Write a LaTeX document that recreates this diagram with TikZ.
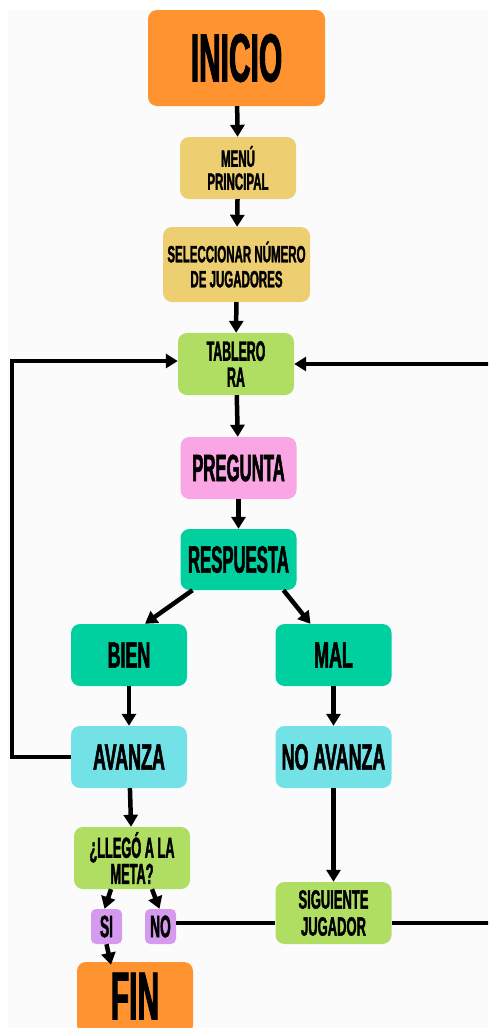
\documentclass[tikz,border=0pt]{standalone}
\usepackage{fontspec}
\usetikzlibrary{arrows.meta,calc}
\newfontfamily\bbn[FakeStretch=0.44,FakeBold=1.4]{Liberation Sans}
\newfontfamily\bbw[FakeStretch=0.49,FakeBold=1.4]{Liberation Sans}
\definecolor{cOrange}{HTML}{FF9330}
\definecolor{cYellow}{HTML}{EDCF72}
\definecolor{cGreen}{HTML}{B0DE62}
\definecolor{cPink}{HTML}{FBA6E4}
\definecolor{cTeal}{HTML}{00CFA0}
\definecolor{cCyan}{HTML}{72E2E6}
\definecolor{cViolet}{HTML}{D59AEE}
\definecolor{cBg}{HTML}{FBFBFB}
\begin{document}
\begin{tikzpicture}[x=1pt,y=-1pt,
  box/.style={rounded corners=9pt, inner sep=0pt, align=center, text=black},
  szn/.style 2 args={font=\bbn\bfseries\fontsize{#1}{#2}\selectfont},
  szw/.style 2 args={font=\bbw\bfseries\fontsize{#1}{#2}\selectfont},
  std/.style={box, minimum width=116pt, minimum height=62pt},
  arr/.style={line width=4.5pt, -{Triangle[length=12pt,width=14pt]}},
  ln/.style={line width=4.5pt}]
\useasboundingbox (0,0) rectangle (488,1028);
\clip (0,0) rectangle (488,1028);
\fill[white] (0,0) rectangle (488,1028);
\fill[cBg] (8,10) rectangle (488,1028);

\node[box, fill=cOrange, minimum width=177pt, minimum height=96pt, szn={68}{68}] (inicio) at (236.5,58) {INICIO};
\node[std, fill=cYellow, szw={23.5}{23}] (menu) at (238,168) {MENÚ\\PRINCIPAL};
\node[box, fill=cYellow, minimum width=147pt, minimum height=75pt, szw={23.5}{25}] (selec) at (236.5,264.5) {SELECCIONAR NÚMERO\\DE JUGADORES};
\node[std, fill=cGreen, szn={28}{26}] (tablero) at (236,364) {TABLERO\\RA};
\node[std, fill=cPink, szn={38}{38}] (pregunta) at (238.5,468) {PREGUNTA};
\node[std, fill=cTeal, minimum height=61pt, szn={38}{38}] (respuesta) at (238.5,559.5) {RESPUESTA};
\node[std, fill=cTeal, szw={36.5}{36}] (bien) at (129,655) {BIEN};
\node[std, fill=cTeal, szw={36.5}{36}] (mal) at (333.5,655) {MAL};
\node[std, fill=cCyan, szw={36.5}{36}] (avanza) at (129,757) {AVANZA};
\node[std, fill=cCyan, szw={36.5}{36}] (noavanza) at (333.5,757) {NO AVANZA};
\node[std, fill=cGreen, szn={29}{20.5}] (llego) at (132,858) {¿LLEGÓ A LA\\META?};
\node[box, fill=cViolet, minimum width=31pt, minimum height=35pt, rounded corners=5pt, szn={31}{31}] (si) at (106.5,926.5) {SI};
\node[box, fill=cViolet, minimum width=31pt, minimum height=35pt, rounded corners=5pt, szn={31}{31}] (no) at (160.5,926.5) {NO};
\node[std, fill=cGreen, szw={26.5}{27}] (siguiente) at (333.5,913) {SIGUIENTE\\JUGADOR};
\node[box, fill=cOrange, minimum width=116pt, minimum height=72pt, text height=49pt, text depth=6pt, szn={68}{68}] (fin) at (135,998) {FIN};

\draw[arr] (inicio) -- (menu);
\draw[arr] (menu) -- (selec);
\draw[arr] (selec) -- (tablero);
\draw[arr] (tablero) -- (pregunta);
\draw[arr] (pregunta) -- (respuesta);
\draw[arr] ($(respuesta.south)+(-46,0)$) -- ($(bien.north)+(16,0)$);
\draw[arr] ($(respuesta.south)+(45,0)$) -- ($(mal.north)+(-23,0)$);
\draw[arr] (bien) -- (avanza);
\draw[arr] (mal) -- (noavanza);
\draw[arr] (avanza) -- (llego);
\draw[arr] (noavanza) -- (siguiente);
\draw[arr] ($(llego.south)+(-21,0)$) -- ($(si.north)+(-2,0)$);
\draw[arr] ($(llego.south)+(20,0)$) -- ($(no.north)+(-1,0)$);
\draw[arr] ($(si.south)+(0,0)$) -- ($(fin.north)+(-24,3)$);

\coordinate (lt) at (12,361);
\draw[arr] (avanza.west) -| (lt) -- (tablero.west |- lt);

\coordinate (nr) at (no.east |- 0,923);
\draw[ln] (nr) -- (siguiente.west |- nr);

\coordinate (rb) at (500,923);
\coordinate (rt) at (500,364);
\draw[arr] (siguiente.east |- rb) -- (rb) -- (rt) -- (tablero.east);
\end{tikzpicture}
\end{document}
